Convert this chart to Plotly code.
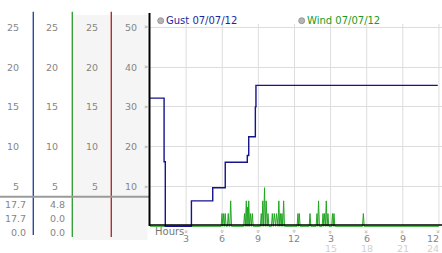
import plotly.graph_objects as go

W, H = 442, 253

# ---------------- data ----------------
hour_ticks = [3, 6, 9, 12, 15, 18, 21, 24]
hour_labels = ["3", "6", "9", "12", "3", "6", "9", "12"]
hour_labels2 = ["", "", "", "", "15", "18", "21", "24"]

y_ticks = [10, 20, 30, 40, 50]
left_tick_labels = ["5", "10", "15", "20", "25"]

gust_hours = [0.0, 1.17, 1.27, 3.44, 5.21, 6.25, 8.08, 8.20, 8.75, 8.80, 23.9]
gust_values = [32.2, 16.2, 0.0, 6.4, 9.7, 16.1, 17.8, 22.5, 30.0, 35.4, 35.4]

wind_spike_hours = [5.98, 6.12, 6.25, 6.50, 6.70,
                    7.85, 8.00, 8.10, 8.20, 8.35, 8.50,
                    9.24, 9.37, 9.51, 9.65, 9.80,
                    10.16, 10.32, 10.51, 10.70, 10.84, 10.96, 11.10,
                    12.29, 12.40, 13.29, 13.87, 14.00,
                    14.37, 14.49, 14.64, 14.78, 15.16, 15.28, 17.72]
wind_spike_values = [3.2, 3.2, 3.2, 3.2, 6.4,
                     3.2, 6.4, 4.8, 6.4, 3.2, 3.2,
                     3.2, 6.4, 9.7, 6.4, 3.2,
                     3.2, 3.2, 3.2, 6.4, 3.2, 3.2, 6.4,
                     3.2, 3.2, 3.2, 3.2, 6.4,
                     3.2, 3.2, 6.4, 3.2, 3.2, 3.2, 3.2]
wind_start, wind_end = 0.0, 24.0

panel1_values = ["17.7", "17.7", "0.0"]
panel2_values = ["4.8", "0.0", "0.0"]

# build wind trace (zero baseline between readings)
wx, wy = [wind_start], [0.0]
n = len(wind_spike_hours)
for i, (h, v) in enumerate(zip(wind_spike_hours, wind_spike_values)):
    prev_gap = h - wind_spike_hours[i - 1] if i > 0 else 1.0
    next_gap = wind_spike_hours[i + 1] - h if i < n - 1 else 1.0
    wl = min(0.07, prev_gap / 2)
    wr = min(0.07, next_gap / 2)
    if wx[-1] < h - wl:
        wx.append(h - wl); wy.append(0.0)
    wx.append(h); wy.append(v)
    wx.append(h + wr); wy.append(0.0)
wx.append(wind_end); wy.append(0.0)


def px(x):
    return x / W


def py(y):
    return 1 - y / H


FONT = "DejaVu Sans"
fig = go.Figure()

fig.add_trace(go.Scatter(x=wx, y=wy, mode="lines",
                         line=dict(color="#22a622", width=1),
                         hoverinfo="skip", showlegend=False))
fig.add_trace(go.Scatter(x=gust_hours, y=gust_values, mode="lines",
                         line=dict(color="#14148c", width=1.4, shape="hv"),
                         hoverinfo="skip", showlegend=False))

x0_px, x_per_h = 150.0, 12.04
x_max = (W - x0_px) / x_per_h
y_bottom_px, y_top_px = 228.0, 13.0
y_per = 3.98
y_zero_px = 226.3
y_min = -(y_bottom_px - y_zero_px) / y_per
y_max = (y_zero_px - y_top_px) / y_per

fig.update_layout(
    width=W, height=H,
    margin=dict(l=0, r=0, t=0, b=0),
    paper_bgcolor="white", plot_bgcolor="white",
    xaxis=dict(domain=[px(x0_px), 1], range=[0, x_max], showgrid=False,
               zeroline=False, showticklabels=False, ticks="", showline=False),
    yaxis=dict(domain=[py(y_bottom_px), py(y_top_px)], range=[y_min, y_max],
               tickvals=y_ticks, showgrid=True, gridcolor="#dddddd", gridwidth=1,
               zeroline=False, showticklabels=False, ticks="", showline=False),
)

shapes = []
# panel backgrounds
shapes.append(dict(type="rect", xref="paper", yref="paper",
                   x0=px(72.7), x1=px(147.5), y0=py(240), y1=py(15),
                   fillcolor="#f5f5f5", line=dict(width=0), layer="below"))
# vertical grid lines
for h in hour_ticks:
    shapes.append(dict(type="line", xref="x", yref="y", x0=h, x1=h, y0=0, y1=50.85,
                       line=dict(color="#dddddd", width=1), layer="below"))
# left panel colored separators
shapes.append(dict(type="line", xref="paper", yref="paper", x0=px(33.3), x1=px(33.3),
                   y0=py(235), y1=py(11.7), line=dict(color="#2a4aa0", width=1.4)))
shapes.append(dict(type="line", xref="paper", yref="paper", x0=px(72.3), x1=px(72.3),
                   y0=py(237), y1=py(11.7), line=dict(color="#3a9e3a", width=1.4)))
shapes.append(dict(type="line", xref="paper", yref="paper", x0=px(111.3), x1=px(111.3),
                   y0=py(237), y1=py(11.7), line=dict(color="#b03030", width=1.4)))
# gray separator
shapes.append(dict(type="line", xref="paper", yref="paper", x0=0, x1=px(149.5),
                   y0=py(196.7), y1=py(196.7), line=dict(color="#9a9a9a", width=2)))
# main axes
shapes.append(dict(type="line", xref="paper", yref="paper", x0=px(149.5), x1=px(149.5),
                   y0=py(226), y1=py(13), line=dict(color="black", width=2)))
shapes.append(dict(type="line", xref="paper", yref="paper", x0=px(149), x1=1,
                   y0=py(225), y1=py(225), line=dict(color="black", width=1.6)))
# legend circles
for cx in (160.7, 301.7):
    shapes.append(dict(type="circle", xref="paper", yref="paper",
                       x0=px(cx - 3), x1=px(cx + 3), y0=py(23.7), y1=py(17.7),
                       fillcolor="#b4b4b4", line=dict(color="#8a8a8a", width=0.8)))
fig.update_layout(shapes=shapes)

ann = []


def txt(x, y, s, color, size=10, xanchor="center", yref="paper", angle=0):
    ann.append(dict(x=x, y=y, xref="paper", yref=yref, text=s, showarrow=False,
                    xanchor=xanchor, yanchor="middle", textangle=angle,
                    font=dict(family=FONT, size=size, color=color)))


# left panel tick labels
for v, lab in zip(y_ticks, left_tick_labels):
    for right in (20.5, 60, 99.5):
        txt(px(right), v, lab, "#858585", 9.5, "right", "y")
    txt(px(138.5), v, str(v), "#858585", 9.5, "right", "y")
    txt(px(145.5), v, "»", "#a0a0a0", 7, "center", "y")

# bottom values
for i, (a, b) in enumerate(zip(panel1_values, panel2_values)):
    yy = [204.7, 218.7, 232.0][i]
    txt(px(27.5), py(yy), a, "#858585", 9.5, "right")
    txt(px(66.5), py(yy), b, "#858585", 9.5, "right")

# x tick glyphs and labels
for h, l1, l2 in zip(hour_ticks, hour_labels, hour_labels2):
    xp = x0_px + h * x_per_h
    anchor = "center"
    if xp > W - 8:
        xp, anchor = W - 1, "right"
    txt(px(xp if anchor == "center" else xp - 3), py(231.5), "»", "#a0a0a0", 7, "center", angle=90)
    txt(px(xp), py(238.0), l1, "#858585", 9.5, anchor)
    if l2:
        txt(px(xp), py(248.3), l2, "#d0d0d0", 9.5, anchor)

txt(px(152.5), py(231.5), "Hours", "#777777", 10, "left")

# legend text
txt(px(164.3), py(20.7), "Gust 07/07/12", "#1a2a9c", 10, "left")
txt(px(305.3), py(20.7), "Wind 07/07/12", "#229a22", 10, "left")

fig.update_layout(annotations=ann)

fig.write_html("out.html")
